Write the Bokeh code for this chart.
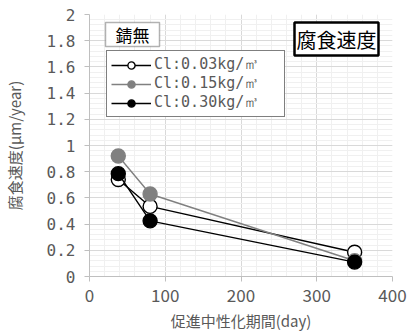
from bokeh.plotting import figure
from bokeh.models import Label, Legend, LegendItem, SingleIntervalTicker, Range1d, BoxAnnotation
from bokeh.embed import file_html
from bokeh.resources import INLINE

# data
days = [38, 80, 350]
cl003 = [0.74, 0.535, 0.185]
cl015 = [0.92, 0.63, 0.12]
cl030 = [0.785, 0.425, 0.11]
series_labels = ["Cl:0.03kg/㎥", "Cl:0.15kg/㎥", "Cl:0.30kg/㎥"]

FONT = "Noto Sans CJK JP"
MONO = "DejaVu Sans Mono"
GRAY_TXT = "#595959"

p = figure(frame_width=303, frame_height=262,
           min_border_left=87, min_border_right=15, min_border_top=14, min_border_bottom=49,
           output_backend="svg", toolbar_location=None,
           x_range=Range1d(0, 400), y_range=Range1d(0, 2))
p.outline_line_color = None
p.background_fill_color = "white"

p.xaxis.ticker = SingleIntervalTicker(interval=100, num_minor_ticks=5)
p.yaxis.ticker = SingleIntervalTicker(interval=0.2, num_minor_ticks=5)

for ax in (p.xaxis[0], p.yaxis[0]):
    ax.axis_line_color = "#bfbfbf"
    ax.major_tick_line_color = "#bfbfbf"
    ax.major_tick_out = 5
    ax.major_tick_in = 0
    ax.minor_tick_line_color = None
    ax.major_label_text_color = GRAY_TXT
    ax.major_label_text_font = FONT
    ax.major_label_text_font_size = "17px"
    ax.axis_label_text_color = GRAY_TXT
    ax.axis_label_text_font = FONT
    ax.axis_label_text_font_size = "15px"
    ax.axis_label_text_font_style = "normal"

p.yaxis.major_label_text_font = MONO
p.yaxis.major_label_text_font_size = "16px"

p.xaxis.axis_label = "促進中性化期間(day)"
p.yaxis.axis_label = "腐食速度(μm/year)"
p.yaxis.major_label_standoff = 9
p.xaxis.major_label_standoff = 7
p.xaxis.axis_label_standoff = 5
p.yaxis.axis_label_standoff = 19

p.grid.grid_line_color = "#d9d9d9"
p.grid.minor_grid_line_color = "#f0f0f0"

colors_fill = ["white", "#808080", "black"]
colors_line = ["black", "#808080", "black"]
ys = [cl003, cl015, cl030]
items = []
for lbl, y, fc, lc in zip(series_labels, ys, colors_fill, colors_line):
    ln = p.line(days, y, line_color=lc, line_width=1.4)
    sc = p.scatter(days, y, size=14, fill_color=fc, line_color=lc, line_width=1.4)
    items.append(LegendItem(label=lbl, renderers=[ln, sc]))

legend = Legend(items=items, location=(17, 159))
legend.border_line_color = "black"
legend.border_line_width = 1.5
legend.label_text_font = MONO
legend.label_text_font_size = "15px"
legend.label_text_color = GRAY_TXT
legend.glyph_width = 40
legend.glyph_height = 18
legend.label_height = 18
legend.label_width = 126
legend.spacing = 0
legend.padding = 4
legend.margin = 0
legend.label_standoff = 3
legend.background_fill_color = "white"
legend.background_fill_alpha = 1
p.add_layout(legend)

p.add_layout(BoxAnnotation(left=16, right=70, top=254, bottom=230,
                           left_units="screen", right_units="screen",
                           top_units="screen", bottom_units="screen",
                           fill_color="white", fill_alpha=1,
                           line_color="black", line_width=1.5))
p.add_layout(Label(x=43, y=242, x_units="screen", y_units="screen", text="錆無",
                   anchor="center", text_font=FONT, text_font_size="17px",
                   text_color="black"))
p.add_layout(Label(x=205, y=254, x_units="screen", y_units="screen", text="腐食速度",
                   anchor="top_left", text_font=FONT, text_font_size="20px",
                   text_color="black", border_line_color="black", border_line_width=2.5,
                   background_fill_color="white", padding=2))

open("out.html", "w").write(file_html(p, INLINE))
